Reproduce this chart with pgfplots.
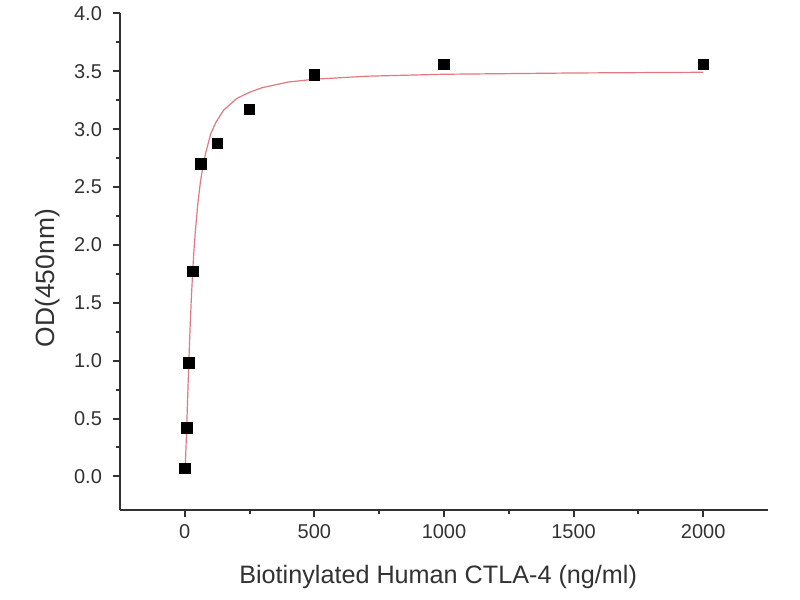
\documentclass[border=0pt]{standalone}
\usepackage{pgfplots}
\pgfplotsset{compat=1.18}
\usepackage{fontspec}
\setmainfont{Liberation Sans}
\definecolor{fitred}{RGB}{226,120,128}
\definecolor{axgray}{RGB}{50,50,50}
\begin{document}
\begin{tikzpicture}
\path[use as bounding box] (0,0) rectangle (400pt,300pt);
\begin{axis}[
  at={(60pt,45pt)}, anchor=south west,
  scale only axis, width=324pt, height=248.25pt,
  xmin=-250, xmax=2250, ymin=-0.29, ymax=4.0,
  axis lines=left, axis line style={-, axgray, line width=1.3pt},
  tick align=outside, tick style={axgray, line width=1pt},
  major tick length=3.5pt, minor tick length=2pt,
  xtick={0,500,1000,1500,2000}, ytick={0,0.5,...,4.0},
  minor x tick num=1, minor y tick num=1,
  /pgf/number format/assume math mode=true,
  yticklabel style={xshift=-2pt, /pgf/number format/.cd, fixed, fixed zerofill, precision=1},
  xticklabel style={/pgf/number format/.cd, fixed, 1000 sep={}},
  tick label style={font=\fontsize{10}{12}\selectfont, text=axgray},
  xlabel={Biotinylated Human CTLA-4 (ng/ml)},
  ylabel={OD(450nm)},
  xlabel style={font=\fontsize{12.6}{14}\selectfont, text=axgray, at={(axis description cs:0.491,-0.135)}, anchor=center},
  ylabel style={font=\fontsize{13.2}{15}\selectfont, text=axgray, at={(axis description cs:-0.111,0.467)}, anchor=center, rotate=0},
  clip=false,
]
\addplot[fitred, line width=0.6pt, no marks] coordinates {
(0,0.050) (2,0.108) (4,0.210) (6,0.333) (8,0.468) (10,0.607) (12,0.747)
(15,0.951) (18,1.140) (21,1.315) (25,1.525) (30,1.750) (35,1.940) (40,2.100)
(50,2.350) (60,2.540) (70,2.680) (80,2.790) (100,2.960) (120,3.060) (150,3.165)
(200,3.265) (250,3.320) (300,3.360) (400,3.408) (500,3.432) (700,3.458)
(1000,3.475) (1500,3.486) (2000,3.492)
};
\addplot[only marks, mark=square*, mark size=2.6pt, black] coordinates {
(0,0.07) (7.8,0.42) (15.6,0.98) (31.25,1.77) (62.5,2.70) (125,2.88)
(250,3.17) (500,3.47) (1000,3.56) (2000,3.56)
};
\end{axis}
\end{tikzpicture}
\end{document}
